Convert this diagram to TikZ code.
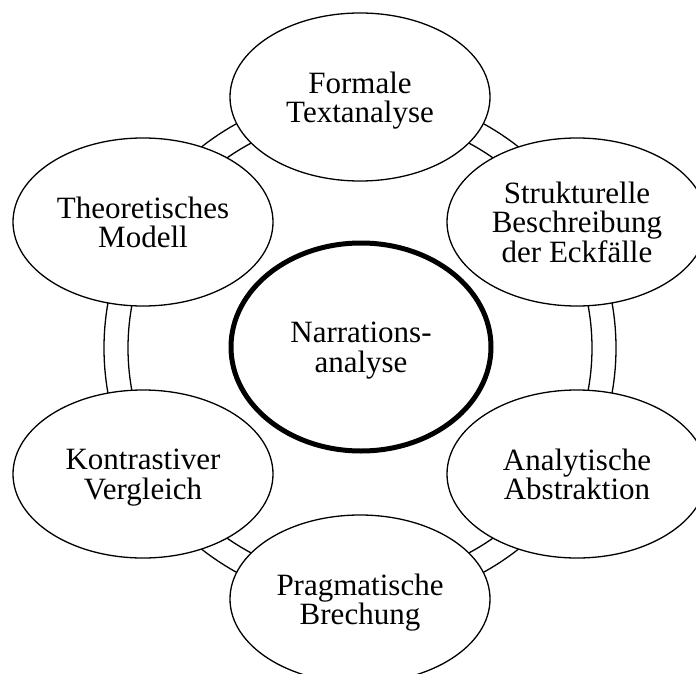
\documentclass[tikz,border=0pt]{standalone}
\usepackage{fontspec}
\setmainfont{Liberation Serif}
\usetikzlibrary{shapes.geometric}
\newcommand\nodp[1]{\raisebox{0pt}[\height][0pt]{#1}}
\begin{document}
\begin{tikzpicture}[x=1pt,y=-1pt,
  thin line/.style={line width=1.3pt},
  outer/.style={ellipse, draw, thin line, fill=white, minimum width=260pt,
    minimum height=168pt, inner sep=0pt, align=center,
    font=\fontsize{31}{29.5}\selectfont},
  hub/.style={outer, line width=5pt, minimum height=208pt}]
\useasboundingbox (0,0) rectangle (696,674);
\clip (0,0) rectangle (696,674);
\coordinate (c) at (360,348);
\draw[thin line] (c) circle[radius=256];
\draw[thin line] (c) circle[radius=232];
\node[outer] (top) at (360,97) {Formale\\\nodp{Textanalyse}};
\node[outer] (ru) at (577,222) {Strukturelle\\Beschreibung\\\nodp{der Eckfälle}};
\node[outer] (rl) at (577,474) {Analytische\\\nodp{Abstraktion}};
\node[outer] (bot) at (360,599) {Pragmatische\\\nodp{Brechung}};
\node[outer] (ll) at (143,474) {Kontrastiver\\\nodp{Vergleich}};
\node[outer] (lu) at (143,222) {Theoretisches\\\nodp{Modell}};
\node[hub] (hub) at (361,347) {Narrations-\\\nodp{analyse}};
\end{tikzpicture}
\end{document}
